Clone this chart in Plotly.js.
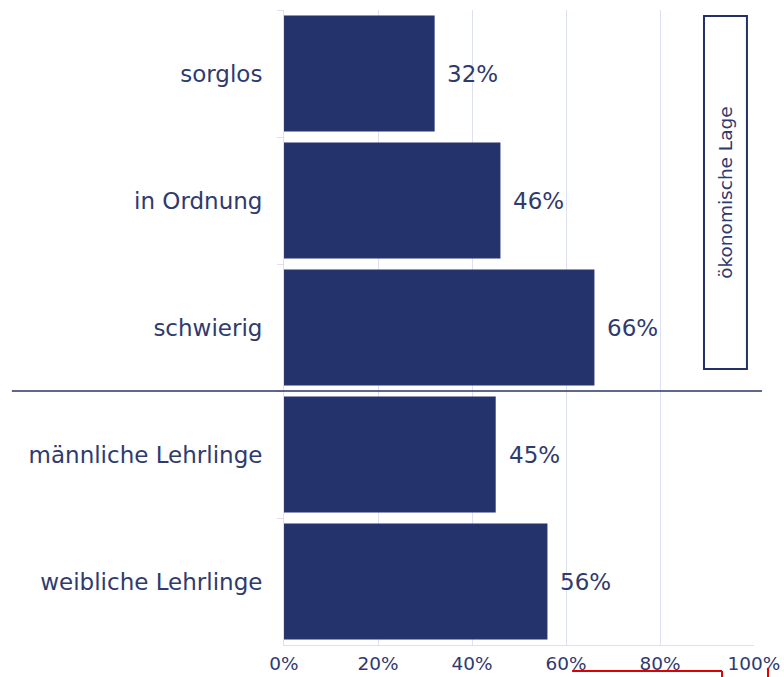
<!DOCTYPE html>
<html>
<head>
<meta charset="utf-8">
<script src="https://cdn.plot.ly/plotly-3.0.1.min.js"></script>
<style>html,body{margin:0;padding:0;background:#fff;}#chart{width:784px;height:677px;}</style>
</head>
<body>
<div id="chart"></div>
<script>
const categories = ["sorglos", "in Ordnung", "schwierig", "männliche Lehrlinge", "weibliche Lehrlinge"];
const values = [0.32, 0.46, 0.66, 0.45, 0.56];
const valueLabels = ["32%", "46%", "66%", "45%", "56%"];
const tickVals = [0, 0.2, 0.4, 0.6, 0.8, 1.0];
const tickLabels = ["0%", "20%", "40%", "60%", "80%", "100%"];
const groupLabel = "ökonomische Lage";

const textColor = "#2f3a6e";
const barColor = "#24336b";
const gridColor = "#dde0f0";
const fontFam = "DejaVu Sans, Verdana, sans-serif";

const trace = {
  type: "bar",
  orientation: "h",
  y: categories,
  x: values,
  marker: {color: barColor, line: {color: "#3a4680", width: 0.5}},
  hoverinfo: "skip"
};

const annotations = categories.map((c, i) => ({
  x: values[i], y: c, xref: "x", yref: "y",
  text: valueLabels[i], showarrow: false,
  xanchor: "left", yanchor: "middle", xshift: 11,
  font: {family: fontFam, size: 23, color: textColor}
}));
annotations.push({
  x: 0.939, y: 0.7126, xref: "paper", yref: "paper",
  text: groupLabel, showarrow: false, textangle: -90,
  xanchor: "center", yanchor: "middle",
  font: {family: fontFam, size: 18.5, color: textColor}
});

const layout = {
  width: 784, height: 677,
  margin: {l: 284, r: 30, t: 10, b: 32},
  paper_bgcolor: "#fff", plot_bgcolor: "#fff",
  showlegend: false,
  bargap: 0.09,
  font: {family: fontFam, color: textColor},
  xaxis: {
    range: [0, 1.0],
    tickvals: tickVals, ticktext: tickLabels,
    tickfont: {size: 18.5, color: textColor},
    showgrid: true, gridcolor: gridColor, gridwidth: 1,
    zeroline: false,
    showline: true, linecolor: gridColor, linewidth: 1,
    ticks: "inside", ticklen: 5, tickcolor: gridColor,
    ticklabelstandoff: 2,
    fixedrange: true
  },
  yaxis: {
    type: "category",
    autorange: "reversed",
    tickfont: {size: 23, color: textColor},
    showline: true, linecolor: gridColor, linewidth: 1,
    ticks: "outside", ticklen: 6, tickcolor: gridColor,
    tickson: "boundaries",
    ticklabelstandoff: 16,
    showgrid: false,
    fixedrange: true
  },
  shapes: [
    {type: "line", xref: "paper", yref: "y", x0: -0.579, x1: 1.017, y0: 2.5, y1: 2.5,
     line: {color: "#2b3566", width: 1.3}},
    {type: "rect", xref: "paper", yref: "paper", x0: 0.8936, x1: 0.985, y0: 0.4346, y1: 0.9906,
     line: {color: "#24306a", width: 2}, fillcolor: "rgba(0,0,0,0)"},
    {type: "line", xref: "paper", yref: "paper", x0: 0.613, x1: 0.932, y0: -0.041, y1: -0.041,
     line: {color: "#e00000", width: 2}},
    {type: "line", xref: "paper", yref: "paper", x0: 0.932, x1: 0.932, y0: -0.041, y1: -0.06,
     line: {color: "#e00000", width: 2}},
    {type: "line", xref: "paper", yref: "paper", x0: 1.0298, x1: 1.0298, y0: -0.036, y1: -0.06,
     line: {color: "#e00000", width: 2}}
  ],
  annotations: annotations
};

Plotly.newPlot("chart", [trace], layout, {staticPlot: true, displayModeBar: false});
</script>
</body>
</html>
